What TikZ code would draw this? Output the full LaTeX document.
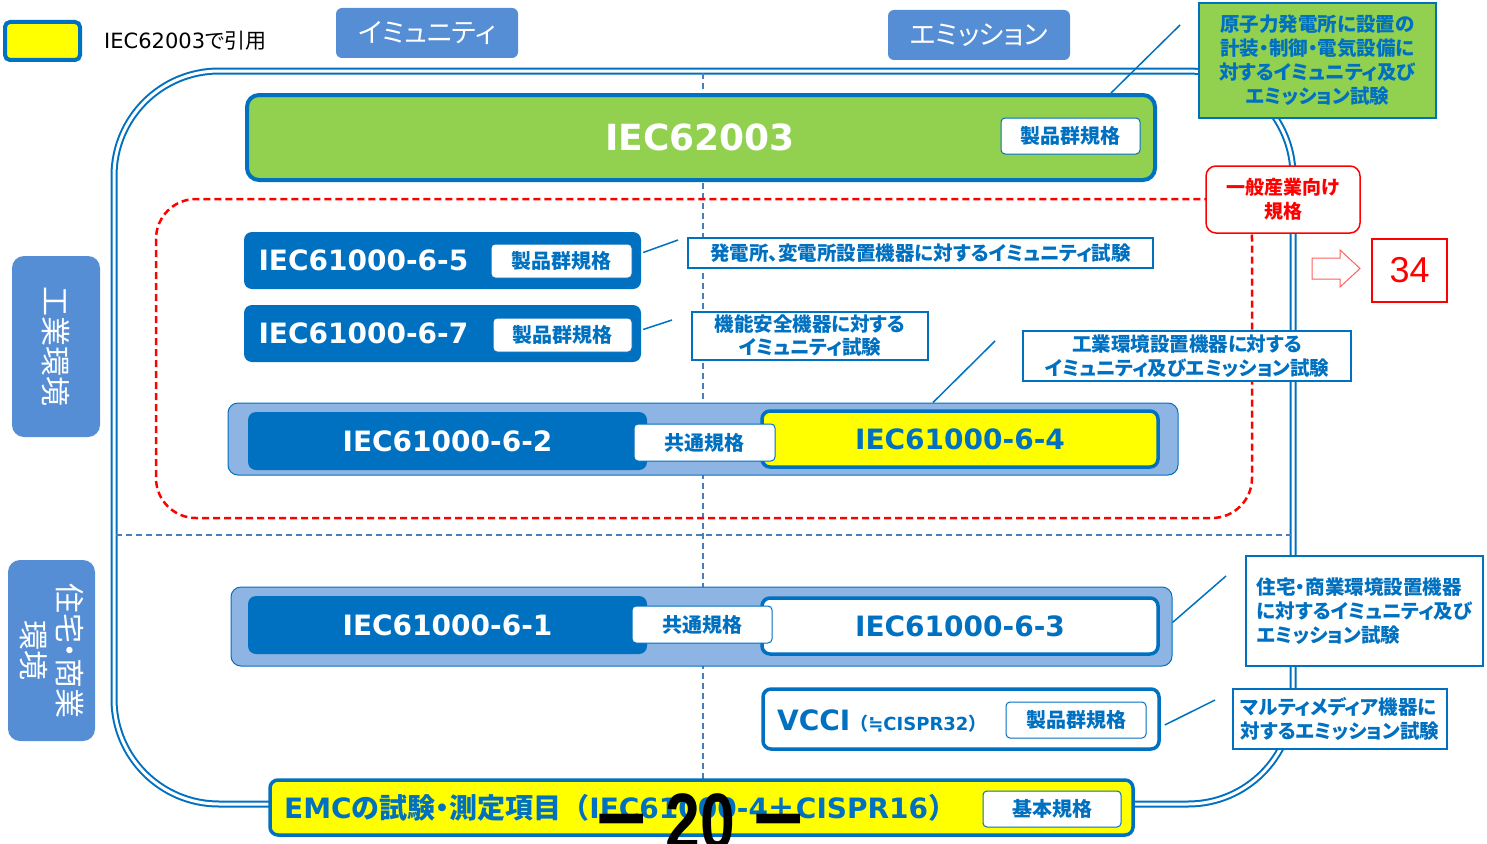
\documentclass[tikz,border=0pt]{standalone}
\usepackage{fontspec}
\setmainfont{DejaVu Sans}
\newfontfamily\jp{Noto Sans CJK JP}[RawFeature={+palt}]
\newfontfamily\jpf{Noto Sans CJK JP}
\newfontfamily\lat{DejaVu Sans}
\newfontfamily\arial{Liberation Sans}
\usetikzlibrary{calc}
\definecolor{dblue}{HTML}{0070C0}
\definecolor{lblue}{HTML}{8DB4E2}
\definecolor{hblue}{HTML}{558ED5}
\definecolor{lgreen}{HTML}{92D050}
\definecolor{dashblue}{HTML}{4A7EBB}
\definecolor{pyellow}{HTML}{FFFF00}
\definecolor{pred}{HTML}{FF0000}
\definecolor{lred}{HTML}{FF6060}
\begin{document}
\begin{tikzpicture}[x=1pt,y=-1pt,
  blk/.style={fill=dblue, rounded corners=8pt, inner sep=0pt, text=white, font=\lat\bfseries\fontsize{28}{28}\selectfont},
  tag/.style={draw=dblue, line width=1pt, fill=white, rounded corners=4pt, text=dblue, font=\jp\bfseries\fontsize{20}{20}\selectfont, inner sep=0pt},
  lbl/.style={draw=dblue, line width=1.5pt, fill=white, text=dblue, font=\jp\bfseries\fontsize{19.5}{24}\selectfont, inner sep=0pt, align=center},
  callout/.style={draw=dblue, line width=1.5pt},
  hdr/.style={fill=hblue, rounded corners=6pt, text=white, font=\jp\fontsize{27}{27}\selectfont, inner sep=0pt},
  side/.style={fill=hblue, rounded corners=12pt, text=white, font=\jp\fontsize{30}{36}\selectfont, inner sep=0pt, align=center, rotate=-90},
  ybox/.style={draw=dblue, line width=3.5pt, fill=pyellow, rounded corners=8pt, inner sep=0pt},
  wbox/.style={draw=dblue, line width=3.5pt, fill=white, rounded corners=8pt, inner sep=0pt},
  cbg/.style={draw=dblue, line width=1pt, fill=lblue, rounded corners=10pt, inner sep=0pt},
  dline/.style={draw=dashblue, line width=2pt, dash pattern=on 6pt off 4pt}
]
\useasboundingbox (0,0) rectangle (1487,843);

% outer double rounded frame
\draw[dblue, line width=2pt, double=white, double distance=3pt, rounded corners=105pt] (114,71) rectangle (1293,804);

% dashed axes
\coordinate (vtop) at (703,73);
\coordinate (vbot) at (703,802);
\coordinate (hl) at (116,535);
\coordinate (hr) at (1291,535);
\draw[dline] (vtop) -- (vbot);
\draw[dline] (hl) -- (hr);

% red dashed region
\draw[pred, line width=2.5pt, dash pattern=on 7pt off 4pt, rounded corners=40pt] (156,199) rectangle (1252,518);

% legend
\node[ybox, line width=4pt, rounded corners=5pt, minimum width=75pt, minimum height=38pt] (leg) at (42.5,41) {};
\node[anchor=west, font=\fontsize{21}{21}\selectfont, inner sep=0pt] (legt) at (104,41) {{\lat IEC62003}{\jp で引用}};

% headers
\node[hdr, minimum width=182pt, minimum height=50pt] (imm) at (427,33) {イミュニティ};
\node[hdr, minimum width=182pt, minimum height=50pt] (emi) at (979,35) {エミッション};

% side labels
\node[side, minimum width=181pt, minimum height=88pt] (ind) at (56,346.5) {工業環境};
\node[side, minimum width=181pt, minimum height=87pt] (res) at (51.5,650.5) {住宅・商業\\環境};

% green IEC62003 bar
\node[draw=dblue, line width=4pt, fill=lgreen, rounded corners=12pt, minimum width=908pt, minimum height=85pt, inner sep=0pt] (gbar) at (701,137.5) {};
\node[text=white, font=\lat\bfseries\fontsize{36}{36}\selectfont, inner sep=0pt] (gtxt) at (700,137) {IEC62003};
\node[tag, minimum width=139pt, minimum height=36pt] (gtag) at (1070.5,136) {製品群規格};

% green label
\node[lbl, fill=lgreen, minimum width=237pt, minimum height=115pt] (glab) at (1317.5,60.5) {原子力発電所に設置の\\計装・制御・電気設備に\\対するイミュニティ及び\\エミッション試験};
\coordinate (c1) at (1180,25);
\draw[callout] ($(gbar.north west)+(866,0)$) -- (c1);

% general industry label
\node[draw=pred, line width=1.5pt, fill=white, rounded corners=10pt, text=pred, font=\jp\bfseries\fontsize{19}{24}\selectfont, align=center, inner sep=0pt, minimum width=154pt, minimum height=67pt] (gen) at (1283,199.5) {一般産業向け\\規格};
\draw[lred, line width=1pt, fill=white] (1312,258) -- (1340,258) -- (1340,250) -- (1360,268.5) -- (1340,287) -- (1340,279) -- (1312,279) -- cycle;
\node[draw=pred, line width=1.5pt, text=pred, font=\arial\fontsize{36}{36}\selectfont, minimum width=75pt, minimum height=63pt, inner sep=0pt] (p34) at (1409.5,270.5) {34};

% IEC61000-6-5 / 6-7
\node[blk, minimum width=397pt, minimum height=57pt, text width=368pt, align=left] (b65) at (442.5,260.5) {IEC61000-6-5};
\node[tag, minimum width=141pt, minimum height=34pt] (t65) at (561.5,261) {製品群規格};
\node[blk, minimum width=397pt, minimum height=57pt, text width=368pt, align=left] (b67) at (442.5,333.5) {IEC61000-6-7};
\node[tag, minimum width=139pt, minimum height=34pt] (t67) at (562.5,335) {製品群規格};

\node[lbl, minimum width=465pt, minimum height=30pt] (l65) at (920.5,253) {発電所、変電所設置機器に対するイミュニティ試験};
\node[lbl, minimum width=236pt, minimum height=48pt, font=\jp\bfseries\fontsize{19.5}{23}\selectfont] (l67) at (810,336) {機能安全機器に対する\\イミュニティ試験};
\coordinate (c2) at (678,240);
\coordinate (c3) at (672,320);
\draw[callout] ($(b65.east)+(2,-8)$) -- (c2);
\draw[callout] ($(b67.east)+(2,-4)$) -- (c3);

% common 6-2 / 6-4
\node[cbg, minimum width=950pt, minimum height=72pt] (cb1) at (703,439) {};
\node[blk, minimum width=399pt, minimum height=58pt] (b62) at (447.5,441) {IEC61000-6-2};
\node[ybox, minimum width=396pt, minimum height=56pt, text=dblue, font=\lat\bfseries\fontsize{28}{28}\selectfont] (b64) at (960,439) {IEC61000-6-4};
\node[tag, minimum width=141pt, minimum height=37pt] (t62) at (704.5,442.5) {共通規格};
\node[lbl, minimum width=328pt, minimum height=50pt] (l64) at (1187,356) {工業環境設置機器に対する\\イミュニティ及びエミッション試験};
\coordinate (c4) at (995,341);
\draw[callout] ($(cb1.north)+(230,0)$) -- (c4);

% common 6-1 / 6-3
\node[cbg, minimum width=941pt, minimum height=79pt] (cb2) at (701.5,626.5) {};
\node[blk, minimum width=399pt, minimum height=58pt] (b61) at (447.5,625) {IEC61000-6-1};
\node[wbox, minimum width=396pt, minimum height=56pt, text=dblue, font=\lat\bfseries\fontsize{28}{28}\selectfont] (b63) at (960,626) {IEC61000-6-3};
\node[tag, minimum width=140pt, minimum height=37pt] (t61) at (702,624.5) {共通規格};
\node[lbl, minimum width=237pt, minimum height=110pt, align=left] (l63) at (1364.5,611) {住宅・商業環境設置機器\\に対するイミュニティ及び\\エミッション試験};
\coordinate (c5) at (1226,576);
\draw[callout] ($(cb2.east)+(0,-4)$) -- (c5);

% VCCI
\node[wbox, minimum width=396pt, minimum height=60pt] (vcci) at (961,719) {};
\node[anchor=west, inner sep=0pt, text=dblue, font=\bfseries\fontsize{28}{28}\selectfont] (vtxt) at (777,721) {{\lat VCCI}{\fontsize{18}{18}\selectfont\jpf （}{\fontsize{18}{18}\selectfont\lat ≒CISPR32}{\fontsize{18}{18}\selectfont\jpf ）}};
\node[tag, minimum width=140pt, minimum height=36pt] (tv) at (1076,720) {製品群規格};
\node[lbl, minimum width=214pt, minimum height=60pt, align=left] (lv) at (1340,719) {マルティメディア機器に\\対するエミッション試験};
\coordinate (c6) at (1215,700);
\draw[callout] ($(vcci.east)+(4,6)$) -- (c6);

% EMC bar
\node[ybox, minimum width=863pt, minimum height=55pt] (emc) at (701.5,807.5) {};
\node[anchor=west, inner sep=0pt, text=dblue, font=\bfseries\fontsize{28}{28}\selectfont] (emct) at (284,808) {{\lat EMC}{\jp の試験・測定項目}{\jpf （}{\lat IEC61000-4}{\jp ＋}{\lat CISPR16}{\jpf ）}};
\node[tag, minimum width=138pt, minimum height=36pt] (temc) at (1052,809) {基本規格};

% page number
\node[anchor=base, inner sep=0pt, xscale=0.78, transform shape, font=\bfseries\fontsize{80}{80}\selectfont] (pg) at (700,849) {{\jpf －}\hspace{16pt}{\arial 20}\hspace{16pt}{\jpf －}};
\end{tikzpicture}
\end{document}
